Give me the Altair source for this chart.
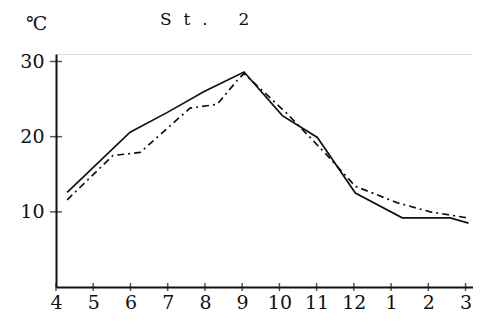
import altair as alt
import pandas as pd

# Solid line (month position, temperature °C)
solid_month = [4.30, 5.99, 6.98, 7.98, 9.05, 10.08, 11.02, 12.04, 13.30, 14.59, 15.08]
solid_temp = [12.6, 20.6, 23.2, 26.0, 28.6, 22.8, 19.9, 12.5, 9.2, 9.2, 8.5]

# Dash-dot line
dashed_month = [4.30, 5.53, 6.26, 7.60, 8.33, 8.87, 9.05, 10.20, 11.23, 12.04, 13.17, 14.05, 15.05]
dashed_temp = [11.6, 17.5, 17.9, 23.8, 24.3, 27.5, 28.4, 23.1, 17.8, 13.4, 11.2, 10.0, 9.2]

x_ticks = [4, 5, 6, 7, 8, 9, 10, 11, 12, 13, 14, 15]
y_ticks = [10, 20, 30]

FONT = "DejaVu Serif"

solid_df = pd.DataFrame({"m": solid_month, "t": solid_temp})
dash_df = pd.DataFrame({"m": dashed_month, "t": dashed_temp})
xt_df = pd.DataFrame({"m": x_ticks})
yt_df = pd.DataFrame({"t": y_ticks})

xscale = alt.Scale(domain=[4, 15.2], nice=False, zero=False)
yscale = alt.Scale(domain=[0, 31], nice=False)

xaxis = alt.Axis(values=x_ticks, labelExpr="datum.value > 12 ? datum.value - 12 : datum.value",
                 title=None, grid=False, ticks=False, labelPadding=6, labelFontSize=19,
                 labelOverlap=False, labelFlush=False, labelBound=False,
                 labelFont=FONT, labelColor="#111", domainColor="#111", domainWidth=2)
yaxis = alt.Axis(values=y_ticks, title=None, grid=False, ticks=False, labelPadding=12,
                 labelFontSize=19, labelFont=FONT, labelColor="#111", labelOverlap=False,
                 labelFlush=False, labelBound=False, domainColor="#111", domainWidth=2)

X = lambda: alt.X("m:Q", scale=xscale, axis=xaxis)
Y = lambda: alt.Y("t:Q", scale=yscale, axis=yaxis)

solid = alt.Chart(solid_df).mark_line(color="#111", strokeWidth=1.7).encode(x=X(), y=Y())
dashed = alt.Chart(dash_df).mark_line(color="#111", strokeWidth=1.7, strokeDash=[7, 4, 2, 4]).encode(
    x=X(), y=Y())

yt = alt.Chart(yt_df).mark_tick(orient="horizontal", size=12, thickness=1.5, color="#111").encode(
    x=alt.X(datum=4, scale=xscale, axis=xaxis), y=Y())
xt = alt.Chart(xt_df).mark_tick(orient="vertical", size=8, thickness=1.5, color="#111").encode(
    x=X(), y=alt.Y(datum=0, scale=yscale, axis=yaxis))

title = alt.Chart(pd.DataFrame({"s": ["S\u2002\u2009t\u2002\u2009.\u2003\u2002 2"]})).mark_text(
    font=FONT, fontSize=17, align="left", baseline="middle", color="#111").encode(
    text="s:N", x=alt.value(104), y=alt.value(-34))
unit = alt.Chart(pd.DataFrame({"s": ["℃"]})).mark_text(
    font=FONT, fontSize=19, align="left", baseline="middle", color="#111").encode(
    text="s:N", x=alt.value(-30), y=alt.value(-30))

chart = alt.layer(solid, dashed, yt, xt, title, unit).properties(
    width=417, height=233,
    autosize=alt.AutoSizeParams(type="none"),
    padding={"left": 48, "top": 46, "right": 0, "bottom": 24},
).configure_view(stroke=None).configure(background="white")

chart.save("out.html", embed_options={"renderer": "svg", "actions": False})
